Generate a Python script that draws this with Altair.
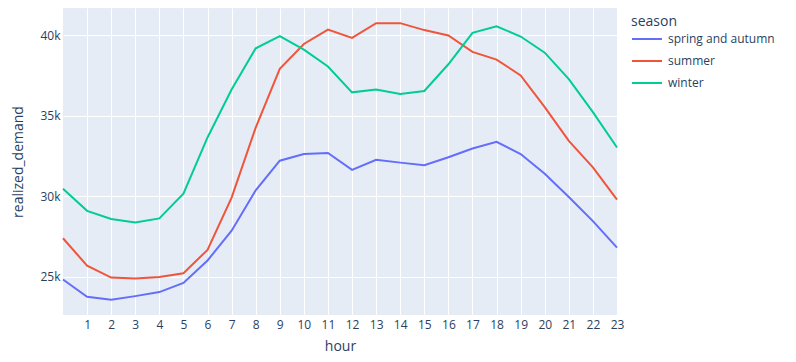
import altair as alt
import pandas as pd

hours = list(range(24))
spring_autumn = [24840, 23770, 23590, 23810, 24060, 24630, 26020, 27870, 30370, 32210,
                 32620, 32690, 31640, 32270, 32090, 31930, 32420, 32970, 33380, 32620,
                 31400, 29960, 28460, 26820]
summer = [27400, 25700, 24960, 24900, 25000, 25230, 26680, 29920, 34260, 37910,
          39450, 40340, 39830, 40740, 40740, 40310, 39980, 38960, 38480, 37500,
          35530, 33440, 31800, 29800]
winter = [30470, 29100, 28590, 28380, 28630, 30170, 33650, 36620, 39180, 39940,
          39100, 38050, 36450, 36620, 36350, 36530, 38190, 40140, 40550, 39910,
          38910, 37270, 35220, 33030]
seasons = ["spring and autumn", "summer", "winter"]
colors = ["#636efa", "#EF553B", "#00cc96"]

rows = []
for name, vals in zip(seasons, [spring_autumn, summer, winter]):
    for h, v in zip(hours, vals):
        rows.append({"hour": h, "realized_demand": v, "season": name})
df = pd.DataFrame(rows)

font = "Open Sans"
fc = "#2a3f5f"

chart = alt.Chart(df).mark_line(strokeWidth=2).encode(
    x=alt.X("hour:Q", scale=alt.Scale(domain=[0, 23], nice=False, zero=False),
            axis=alt.Axis(values=list(range(1, 24)), title="hour", tickSize=0,
                          labelPadding=4, titleY=35.5, titleBaseline="alphabetic",
                          domain=False,
                          gridColor="white", gridWidth=1, labelFontSize=12,
                          titleFontSize=14, labelFont=font, titleFont=font,
                          labelColor=fc, titleColor=fc, titleFontWeight="normal",
                          labelFlush=False)),
    y=alt.Y("realized_demand:Q", scale=alt.Scale(domain=[22640, 41680], nice=False, zero=False),
            axis=alt.Axis(values=[25000, 30000, 35000, 40000], title="realized_demand",
                          labelExpr="datum.value/1000 + 'k'", tickSize=0, labelPadding=3,
                          titlePadding=14, domain=False, gridColor="white", gridWidth=1,
                          labelFontSize=12, titleFontSize=14, labelFont=font, titleFont=font,
                          labelColor=fc, titleColor=fc, titleFontWeight="normal")),
    color=alt.Color("season:N", scale=alt.Scale(domain=seasons, range=colors),
                    legend=alt.Legend(title="season", orient="none", legendX=568, legendY=7,
                                      symbolType="stroke", symbolSize=900, symbolStrokeWidth=2,
                                      labelOffset=5, padding=0, rowPadding=-13.5, titlePadding=-6,
                                      labelFontSize=12, titleFontSize=14, labelFont=font,
                                      titleFont=font, labelColor=fc, titleColor=fc,
                                      titleFontWeight="normal")),
).properties(
    width=554, height=307,
    autosize=alt.AutoSizeParams(type="none"),
    padding={"left": 55, "top": 0, "right": 170, "bottom": 39},
).configure_view(fill="#E5ECF6", stroke=None)

chart.save("out.html", embed_options={"renderer": "svg", "actions": False})
